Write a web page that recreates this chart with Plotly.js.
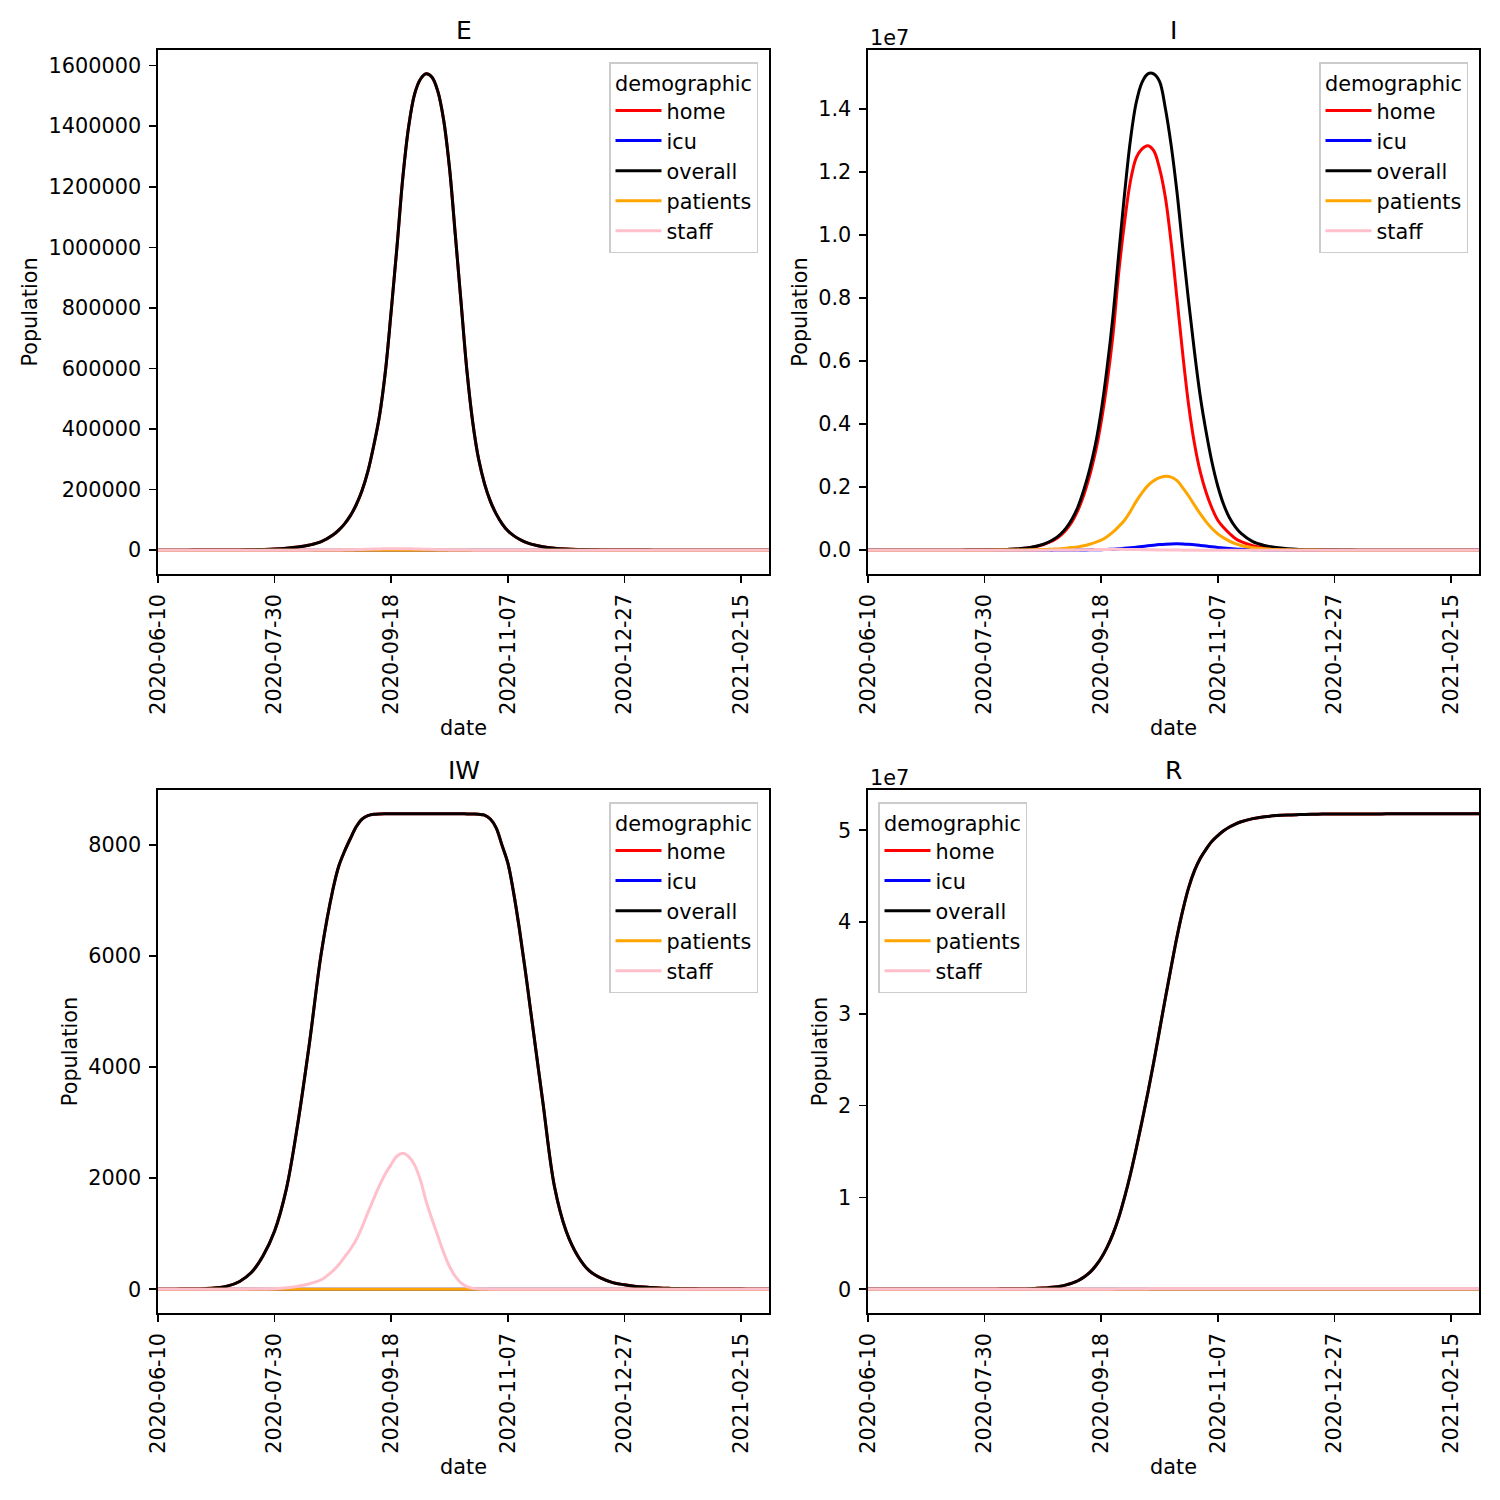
<!DOCTYPE html>
<html>
<head>
<meta charset="utf-8">
<script src="https://cdn.plot.ly/plotly-3.0.1.min.js"></script>
<style>html,body{margin:0;padding:0;background:#fff;}#chart{width:1500px;height:1500px;}</style>
</head>
<body>
<div id="chart"></div>
<script>
// ---------------- DATA ----------------
const dates = ['2020-06-10','2020-06-15','2020-06-20','2020-06-25','2020-06-30','2020-07-05','2020-07-10','2020-07-15','2020-07-20','2020-07-25',
'2020-07-30','2020-08-04','2020-08-09','2020-08-14','2020-08-19',
'2020-08-24','2020-08-26 12:00','2020-08-29','2020-08-31 12:00','2020-09-03','2020-09-05 12:00','2020-09-08','2020-09-10 12:00','2020-09-13','2020-09-15 12:00',
'2020-09-18','2020-09-20 12:00','2020-09-23','2020-09-25 12:00','2020-09-28','2020-09-30 12:00','2020-10-03','2020-10-05 12:00','2020-10-08','2020-10-10 12:00',
'2020-10-13','2020-10-15 12:00','2020-10-18','2020-10-20 12:00','2020-10-23','2020-10-25 12:00','2020-10-28','2020-10-30 12:00','2020-11-02','2020-11-04 12:00',
'2020-11-07','2020-11-09 12:00','2020-11-12','2020-11-14 12:00','2020-11-17',
'2020-11-22','2020-11-27','2020-12-02','2020-12-07','2020-12-12','2020-12-17','2020-12-22','2020-12-27','2021-01-01','2021-01-06',
'2021-01-11','2021-01-16','2021-01-21','2021-01-26','2021-01-31','2021-02-05','2021-02-10','2021-02-15','2021-02-20','2021-02-25','2021-02-27'];

const demographics = ['home','icu','overall','patients','staff'];
const demoColors = ['#ff0000','#0000ff','#000000','#ffa500','#ffc0cb'];
const panelTitles = ['E','I','IW','R'];
const xTickDates = ['2020-06-10','2020-07-30','2020-09-18','2020-11-07','2020-12-27','2021-02-15'];
const zeros = new Array(71).fill(0);

// ---- E ----
const E_overall = [60,90,130,190,270,400,600,950,1500,2500,4000,6500,10500,17000,28000,
50000,66000,87000,114000,150000,197000,260000,345000,445000,590000,
790000,1004000,1232000,1400000,1505000,1555000,1573000,1562000,1515000,1420000,
1262000,1040000,814000,590000,420000,300000,220000,162000,120000,88000,
64000,48000,36000,26500,20000,
11500,6700,4000,2500,1600,1000,650,430,290,200,140,100,70,50,36,26,19,14,10,8,7];
const E_home = [60,90,130,190,270,400,600,950,1500,2500,4000,6500,10500,17000,28000,
50000,66000,87000,114000,150000,197000,260000,345000,445000,590000,
790000,1004000,1232000,1400000,1505000,1555000,1573000,1562000,1515000,1420000,
1262000,1040000,814000,590000,420000,300000,220000,162000,120000,88000,
64000,48000,36000,26500,20000,
11500,6700,4000,2500,1600,1000,650,430,290,200,140,100,70,50,36,26,19,14,10,8,7];
const E_icu = zeros;
const E_patients = zeros;
const E_staff = [0,0,0,0,0,0,0,0,0,0,30,60,110,180,300,
600,800,1100,1450,1900,2400,3000,3600,4200,4650,
5000,5100,5000,4650,4200,3600,3000,2400,1800,1300,
900,600,400,250,150,90,50,20,0,0,
0,0,0,0,0,
0,0,0,0,0,0,0,0,0,0,0,0,0,0,0,0,0,0,0,0,0];

// ---- I ----
const I_home = [100,130,170,220,290,380,500,900,1650,3100,6200,12000,23500,45000,86000,
172000,243000,330000,465000,650000,900000,1260000,1740000,2350000,3100000,
4080000,5300000,6800000,8800000,10400000,11700000,12450000,12740000,12840000,12680000,
12120000,11200000,9750000,7980000,6200000,4600000,3380000,2480000,1830000,1330000,
950000,720000,530000,370000,270000,
140000,75000,40000,21000,12000,6500,3600,2000,1100,600,350,200,120,70,40,25,15,10,6,4,4];
const I_icu = [0,0,0,0,0,0,0,0,0,0,0,0,100,250,500,
1000,1400,2000,2700,3500,4600,6000,7800,10000,13000,
17000,24000,32000,44000,58000,76000,95000,118000,140000,160000,
178000,192000,200000,202000,198000,187000,172000,152000,130000,108000,
88000,69000,52000,38000,28000,
14000,7000,3500,1700,800,400,200,100,50,25,12,6,3,2,1,0,0,0,0,0,0];
const I_overall = [100,130,170,220,290,380,500,900,1700,3200,6500,12500,25000,48000,92000,
185000,260000,360000,505000,710000,990000,1370000,1900000,2550000,3350000,
4420000,5780000,7400000,9380000,11300000,13000000,14200000,14850000,15120000,15120000,
14880000,14030000,12850000,11360000,9580000,7880000,6290000,4870000,3750000,2790000,
2030000,1450000,1030000,740000,530000,
270000,150000,82000,45000,25000,14000,8000,4500,2600,1500,900,550,350,220,140,90,60,40,27,18,17];
const I_patients = [0,0,0,0,0,0,100,150,250,500,1000,2000,3500,6500,12000,
21000,28000,37000,48000,63000,82000,105000,140000,190000,250000,
320000,430000,570000,750000,950000,1230000,1550000,1820000,2050000,2200000,
2300000,2345000,2320000,2210000,1980000,1720000,1430000,1150000,900000,690000,
520000,390000,290000,210000,150000,
80000,42000,22000,11000,6000,3200,1700,900,500,280,150,80,45,25,15,8,5,3,2,1,1];
const I_staff = [0,0,0,0,0,0,0,0,0,0,20,50,100,220,500,
1200,1800,2500,3600,5000,6800,9000,12000,15000,18500,
22000,24500,26000,26000,25000,23000,20000,16500,13000,10000,
7000,5000,3500,2400,1500,1000,600,350,200,100,
0,0,0,0,0,
0,0,0,0,0,0,0,0,0,0,0,0,0,0,0,0,0,0,0,0,0];

// ---- IW ----
const IW_overall = [0,0,2,4,10,25,60,140,300,600,1050,1800,3000,4450,6050,
7200,7620,7890,8120,8330,8470,8530,8555,8563,8565,
8565,8565,8565,8565,8565,8565,8565,8565,8565,8565,
8565,8565,8565,8563,8560,8555,8540,8470,8310,8000,
7680,7140,6480,5740,4950,
3380,1850,1050,600,330,200,120,80,50,35,22,15,10,7,5,3,2,2,1,1,1];
const IW_home = [0,0,2,4,10,25,60,140,300,600,1050,1800,3000,4450,6050,
7200,7620,7890,8120,8330,8470,8530,8555,8563,8565,
8565,8565,8565,8565,8565,8565,8565,8565,8565,8565,
8565,8565,8565,8563,8560,8555,8540,8470,8310,8000,
7680,7140,6480,5740,4950,
3380,1850,1050,600,330,200,120,80,50,35,22,15,10,7,5,3,2,2,1,1,1];
const IW_icu = zeros;
const IW_patients = zeros;
const IW_staff = [0,0,0,0,0,0,0,0,2,5,10,25,55,100,170,
330,440,580,720,890,1120,1380,1630,1870,2080,
2250,2400,2450,2390,2240,1970,1580,1260,960,660,
410,230,110,45,15,6,3,0,0,0,
0,0,0,0,0,
0,0,0,0,0,0,0,0,0,0,0,0,0,0,0,0,0,0,0,0,0];

// ---- R ----
const R_overall = [0,0,0,0,100,200,400,700,1300,2500,4500,8500,17000,33000,64000,
125000,175000,240000,335000,470000,660000,920000,1300000,1800000,2500000,
3400000,4550000,6000000,7800000,10000000,12500000,15300000,18300000,21400000,24700000,
28200000,31700000,35100000,38400000,41300000,43750000,45600000,46950000,47950000,48800000,
49420000,49950000,50360000,50680000,50930000,
51270000,51480000,51600000,51670000,51710000,51740000,51760000,51770000,51775000,51780000,51783000,51786000,51788000,51790000,51792000,51794000,51795000,51796000,51797000,51798000,51798000];
const R_home = [0,0,0,0,100,200,400,700,1300,2500,4500,8500,17000,33000,64000,
125000,175000,240000,335000,470000,660000,920000,1300000,1800000,2500000,
3400000,4550000,6000000,7800000,10000000,12500000,15300000,18300000,21400000,24700000,
28200000,31700000,35100000,38400000,41300000,43750000,45600000,46950000,47950000,48800000,
49420000,49950000,50360000,50680000,50930000,
51270000,51480000,51600000,51670000,51710000,51740000,51760000,51770000,51775000,51780000,51783000,51786000,51788000,51790000,51792000,51794000,51795000,51796000,51797000,51798000,51798000];
const R_icu = zeros;
const R_patients = zeros;
const R_staff = [0,0,0,0,0,0,0,0,0,0,0,0,0,0,0,
0,0,0,0,0,0,500,900,1500,2500,
4000,6000,9000,12500,17000,22000,27000,32000,37000,41000,
45000,48000,50000,52000,53000,54000,55000,55500,56000,56000,
56000,56000,56000,56000,56000,
56000,56000,56000,56000,56000,56000,56000,56000,56000,56000,56000,56000,56000,56000,56000,56000,56000,56000,56000,56000,56000];

// y ticks
const E_tickvals = [0,200000,400000,600000,800000,1000000,1200000,1400000,1600000];
const E_ticktext = ['0','200000','400000','600000','800000','1000000','1200000','1400000','1600000'];
const I_tickvals = [0,2e6,4e6,6e6,8e6,10e6,12e6,14e6];
const I_ticktext = ['0.0','0.2','0.4','0.6','0.8','1.0','1.2','1.4'];
const IW_tickvals = [0,2000,4000,6000,8000];
const IW_ticktext = ['0','2000','4000','6000','8000'];
const R_tickvals = [0,1e7,2e7,3e7,4e7,5e7];
const R_ticktext = ['0','1','2','3','4','5'];

const panelData = [
  [E_home,E_icu,E_overall,E_patients,E_staff],
  [I_home,I_icu,I_overall,I_patients,I_staff],
  [IW_home,IW_icu,IW_overall,IW_patients,IW_staff],
  [R_home,R_icu,R_overall,R_patients,R_staff]
];
const panelTicks = [[E_tickvals,E_ticktext],[I_tickvals,I_ticktext],[IW_tickvals,IW_ticktext],[R_tickvals,R_ticktext]];

// ---------------- LAYOUT ----------------
const W = 1500, H = 1500;
const FONT = 'DejaVu Sans';
const FS = 20.8;
const colsPx = [[158,769],[868,1479]];
const rowsPx = [[50,574],[790,1313]];
const xRange = ['2020-06-10','2021-02-27'];

function yRangeOf(arrs){
  let mn = Infinity, mx = -Infinity;
  arrs.forEach(a => a.forEach(v => { if (v<mn) mn=v; if (v>mx) mx=v; }));
  const pad = (mx-mn)*0.05;
  return [mn-pad, mx+pad];
}

const traces = [];
const layout = {
  width: W, height: H,
  margin: {l:0,r:0,t:0,b:0},
  paper_bgcolor: '#fff', plot_bgcolor: '#fff',
  font: {family: FONT, size: FS, color: '#000'},
  showlegend: true,
  annotations: []
};

const legendPos = [
  {x: 758/W, xanchor:'right'},
  {x: 1468/W, xanchor:'right'},
  {x: 758/W, xanchor:'right'},
  {x: 878/W, xanchor:'left'}
];

for (let p=0; p<4; p++){
  const r = Math.floor(p/2), c = p%2;
  const sfx = p===0 ? '' : String(p+1);
  const xa = 'xaxis'+sfx, ya = 'yaxis'+sfx;
  const legName = 'legend'+sfx;
  const xd = [colsPx[c][0]/W, colsPx[c][1]/W];
  const yd = [1-rowsPx[r][1]/H, 1-rowsPx[r][0]/H];
  const common = {showline:true, mirror:true, linecolor:'#000', linewidth:1.6,
    ticks:'outside', ticklen:7, tickwidth:1.6, tickcolor:'#000',
    showgrid:false, zeroline:false, automargin:false,
    tickfont:{family:FONT, size:FS, color:'#000'}};
  layout[xa] = Object.assign({}, common, {
    domain: xd, anchor: 'y'+sfx, type:'date', range: xRange,
    tickmode:'array', tickvals: xTickDates, ticktext: xTickDates, tickangle:-90,
    ticklabelstandoff: 3,
    title:{text:'date', font:{family:FONT,size:FS,color:'#000'}, standoff:6}
  });
  layout[ya] = Object.assign({}, common, {
    domain: yd, anchor: 'x'+sfx, range: yRangeOf(panelData[p]),
    tickmode:'array', tickvals: panelTicks[p][0], ticktext: panelTicks[p][1],
    ticklabelstandoff: 4,
    title:{text:'Population', font:{family:FONT,size:FS,color:'#000'}, standoff:5}
  });
  layout[legName] = {
    x: legendPos[p].x, xanchor: legendPos[p].xanchor,
    y: 1-(rowsPx[r][0]+12)/H, yanchor:'top',
    bgcolor:'rgba(255,255,255,0.8)', bordercolor:'#cccccc', borderwidth:1.5,
    font:{family:FONT,size:FS,color:'#000'},
    title:{text:'demographic', side:'top center', font:{family:FONT,size:FS,color:'#000'}},
    tracegroupgap:0, itemwidth:46, traceorder:'normal'
  };
  layout.annotations.push({
    text: panelTitles[p], xref:'paper', yref:'paper',
    x: (colsPx[c][0]+colsPx[c][1])/2/W, y: 1-rowsPx[r][0]/H,
    xanchor:'center', yanchor:'bottom', yshift:3, showarrow:false,
    font:{family:FONT,size:25,color:'#000'}
  });
  if (p===1 || p===3){
    layout.annotations.push({
      text:'1e7', xref:'paper', yref:'paper',
      x: colsPx[c][0]/W, y: 1-rowsPx[r][0]/H,
      xanchor:'left', yanchor:'bottom', yshift:-2, showarrow:false,
      font:{family:FONT,size:FS,color:'#000'}
    });
  }
  for (let k=0; k<demographics.length; k++){
    traces.push({
      x: dates, y: panelData[p][k], type:'scatter', mode:'lines',
      name: demographics[k], legend: legName,
      xaxis: 'x'+sfx, yaxis: 'y'+sfx,
      line: {color: demoColors[k], width: 3, shape:'spline', smoothing:1},
      hoverinfo:'skip'
    });
  }
}

Plotly.newPlot('chart', traces, layout, {displayModeBar:false, staticPlot:true});
</script>
</body>
</html>
